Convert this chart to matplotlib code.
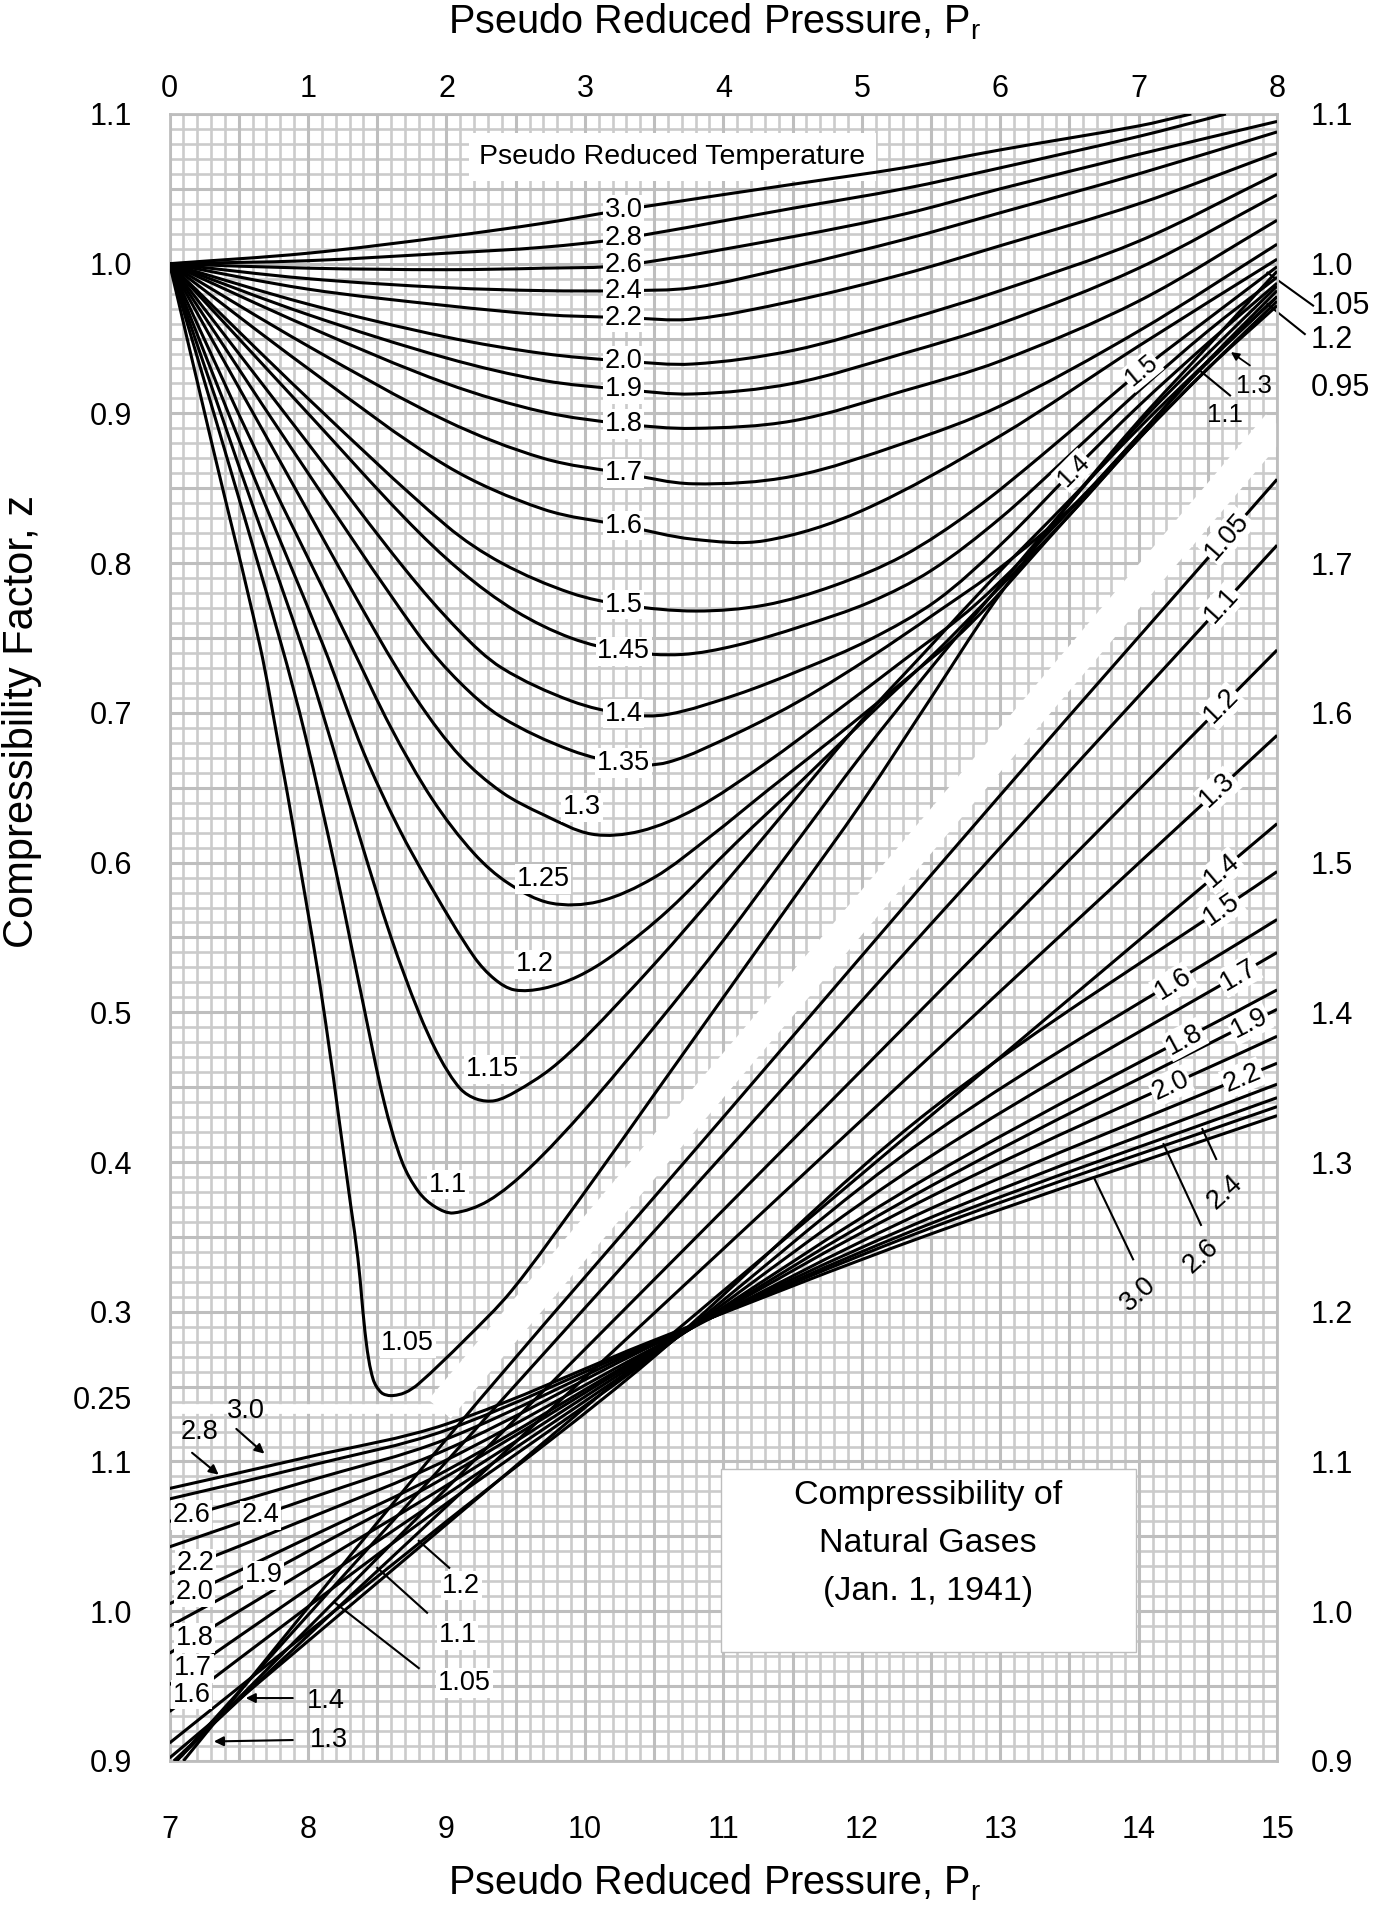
import numpy as np
import matplotlib.pyplot as plt
from matplotlib.patches import Rectangle, PathPatch
from matplotlib.path import Path

plt.rcParams['font.family'] = ['Liberation Sans', 'DejaVu Sans']

# ---------------- upper chart: Pr 0-8 (top scale), z 0.25-1.1 (left scale)
up_pr_30 = [0, 1, 2, 2.7, 3.28, 4.5, 5.3, 6, 7, 7.38]
up_z_30 = [1.0, 1.007, 1.018, 1.027, 1.036, 1.053, 1.064, 1.076, 1.092, 1.1]
up_pr_28 = [0, 1, 2, 2.7, 3.28, 4.5, 5.3, 6, 7, 7.63]
up_z_28 = [1.0, 1.002, 1.007, 1.011, 1.017, 1.037, 1.05, 1.064, 1.085, 1.1]
up_pr_26 = [0, 1, 2, 2.7, 3.28, 4.5, 5.3, 6, 7, 8]
up_z_26 = [1.0, 0.997, 0.996, 0.997, 0.999, 1.018, 1.033, 1.05, 1.073, 1.095]
up_pr_hi = [0, 1, 2, 2.7, 3.28, 3.78, 4.5, 5.3, 6, 7, 8]
up_z_24 = [1.0, 0.99, 0.984, 0.982, 0.982, 0.984, 0.998, 1.016, 1.034, 1.06, 1.088]
up_z_22 = [1.0, 0.983, 0.972, 0.966, 0.964, 0.963, 0.975, 0.993, 1.012, 1.04, 1.074]
up_z_20 = [1.0, 0.973, 0.951, 0.94, 0.935, 0.933, 0.942, 0.962, 0.982, 1.015, 1.06]
up_z_19 = [1.0, 0.966, 0.937, 0.922, 0.916, 0.913, 0.92, 0.94, 0.96, 0.997, 1.046]
up_z_18 = [1.0, 0.958, 0.92, 0.901, 0.893, 0.89, 0.895, 0.915, 0.935, 0.975, 1.029]
up_z_17 = [1.0, 0.945, 0.895, 0.87, 0.86, 0.853, 0.858, 0.88, 0.905, 0.955, 1.013]
up_pr_16 = [0, 1, 2, 2.7, 3.28, 3.78, 4.3, 5, 6, 7, 8]
up_z_16 = [1.0, 0.93, 0.865, 0.836, 0.825, 0.816, 0.815, 0.835, 0.885, 0.945, 1.003]
up_pr_15 = [0, 1, 2, 2.4, 2.9, 3.29, 3.8, 4.3, 4.8, 5.3, 5.8, 6.3, 7.05, 7.5, 8]
up_z_15 = [1.0, 0.91, 0.825, 0.8, 0.78, 0.772, 0.768, 0.772, 0.785, 0.805, 0.835, 0.872, 0.931, 0.963, 0.998]
up_pr_145 = [0, 1, 1.7, 2.1, 2.5, 2.9, 3.29, 3.7, 4.09, 4.57, 5.06, 5.5, 6, 6.5, 7, 7.5, 8]
up_z_145 = [1.0, 0.9, 0.83, 0.795, 0.768, 0.75, 0.741, 0.739, 0.745, 0.758, 0.774, 0.795, 0.83, 0.872, 0.915, 0.955, 0.991]
up_pr_14 = [0, 1, 1.7, 2.1, 2.4, 2.9, 3.3, 3.6, 4.09, 4.57, 5.06, 5.54, 6, 6.53, 7, 7.5, 8]
up_z_14 = [1.0, 0.88, 0.796, 0.754, 0.73, 0.708, 0.699, 0.699, 0.712, 0.729, 0.749, 0.775, 0.812, 0.862, 0.905, 0.947, 0.987]
up_pr_135 = [0, 0.9, 1.8, 2.1, 2.4, 2.9, 3.3, 3.6, 4.09, 4.57, 5.06, 5.54, 6, 6.5, 7, 7.5, 8]
up_z_135 = [1.0, 0.874, 0.752, 0.72, 0.697, 0.675, 0.666, 0.667, 0.686, 0.709, 0.737, 0.767, 0.797, 0.836, 0.885, 0.935, 0.982]
up_pr_13 = [0, 0.75, 1.5, 1.8, 2.1, 2.4, 2.7, 3.05, 3.4, 3.8, 4.3, 4.8, 5.3, 5.83, 6.5, 7, 7.4, 8]
up_z_13 = [1.0, 0.876, 0.752, 0.707, 0.671, 0.647, 0.632, 0.619, 0.621, 0.636, 0.666, 0.7, 0.735, 0.773, 0.835, 0.885, 0.925, 0.978]
up_pr_125 = [0, 0.65, 1.3, 1.6, 1.9, 2.2, 2.45, 2.75, 3.1, 3.5, 3.9, 4.33, 4.81, 5.3, 5.78, 6.5, 7, 7.5, 8]
up_z_125 = [1.0, 0.87, 0.747, 0.69, 0.642, 0.606, 0.586, 0.573, 0.574, 0.59, 0.617, 0.649, 0.684, 0.721, 0.759, 0.832, 0.883, 0.93, 0.975]
up_pr_12 = [0, 0.55, 1.11, 1.4, 1.65, 1.9, 2.2, 2.35, 2.49, 2.7, 2.95, 3.2, 3.6, 4.09, 4.57, 5.06, 5.54, 5.86, 6.5, 7, 7.5, 8]
up_z_12 = [1.0, 0.871, 0.745, 0.674, 0.624, 0.582, 0.537, 0.522, 0.515, 0.516, 0.524, 0.538, 0.568, 0.613, 0.655, 0.699, 0.741, 0.771, 0.832, 0.883, 0.93, 0.972]
up_pr_115 = [0, 0.5, 0.95, 1.17, 1.38, 1.6, 1.8, 1.95, 2.1, 2.22, 2.35, 2.5, 2.75, 3.0, 3.5, 4.0, 4.5, 5.0, 5.5, 5.95, 6.5, 7, 7.5, 8]
up_z_115 = [1.0, 0.865, 0.746, 0.68, 0.615, 0.55, 0.5, 0.47, 0.449, 0.442, 0.441, 0.447, 0.462, 0.483, 0.532, 0.585, 0.64, 0.695, 0.745, 0.79, 0.842, 0.89, 0.935, 0.978]
up_pr_11 = [0, 0.4, 0.8, 0.98, 1.2, 1.4, 1.55, 1.68, 1.8, 1.92, 2.05, 2.3, 2.6, 3.0, 3.5, 4.0, 4.5, 5.0, 5.5, 5.95, 6.5, 7, 7.5, 8]
up_z_11 = [1.0, 0.875, 0.748, 0.685, 0.595, 0.505, 0.44, 0.4, 0.38, 0.37, 0.366, 0.374, 0.396, 0.435, 0.49, 0.548, 0.61, 0.672, 0.73, 0.78, 0.84, 0.893, 0.94, 0.985]
up_pr_105 = [0, 0.3, 0.65, 0.8, 0.9, 1.1, 1.31, 1.36, 1.42, 1.47, 1.53, 1.6, 1.7, 1.8, 2.13, 2.47, 3.0, 3.5, 4.0, 4.5, 5.0, 5.5, 5.95, 6.5, 7, 7.5, 8]
up_z_105 = [1.0, 0.882, 0.746, 0.672, 0.62, 0.51, 0.37, 0.336, 0.28, 0.255, 0.246, 0.244, 0.246, 0.252, 0.281, 0.314, 0.38, 0.445, 0.51, 0.575, 0.64, 0.71, 0.773, 0.84, 0.895, 0.945, 0.995]

# ---------------- lower chart: Pr 7-15 (bottom scale), z 0.9-1.7 (right scale)
lo_pr_hi = [7.0, 8.0, 9.0, 10.5, 12.5, 15.0]
lo_z_30 = [1.082, 1.103, 1.125, 1.181, 1.252, 1.331]
lo_z_28 = [1.075, 1.097, 1.121, 1.180, 1.256, 1.337]
lo_z_26 = [1.060, 1.087, 1.115, 1.179, 1.259, 1.343]
lo_z_24 = [1.043, 1.075, 1.108, 1.178, 1.263, 1.352]
lo_z_22 = [1.025, 1.062, 1.101, 1.176, 1.269, 1.366]
lo_z_20 = [1.005, 1.049, 1.094, 1.175, 1.277, 1.384]
lo_z_19 = [0.990, 1.040, 1.090, 1.174, 1.284, 1.402]
lo_z_18 = [0.972, 1.028, 1.084, 1.173, 1.291, 1.415]
lo_z_17 = [0.951, 1.015, 1.078, 1.172, 1.304, 1.440]
lo_z_16 = [0.933, 1.003, 1.072, 1.171, 1.318, 1.462]
lo_z_15 = [0.912, 0.986, 1.060, 1.170, 1.335, 1.494]
lo_z_14 = [0.902, 0.980, 1.058, 1.175, 1.331, 1.526]
lo_pr_13 = [7.03, 9, 11, 13, 15]
lo_z_13 = [0.9, 1.07, 1.242, 1.414, 1.585]
lo_pr_12 = [7.05, 9, 11, 13, 15]
lo_z_12 = [0.9, 1.082, 1.268, 1.455, 1.642]
lo_pr_11 = [7.05, 9, 11, 13, 15]
lo_z_11 = [0.9, 1.1, 1.305, 1.51, 1.712]
lo_pr_105 = [7.1, 9, 11, 13, 15]
lo_z_105 = [0.9, 1.115, 1.33, 1.545, 1.756]

# axis tick labels
top_ticks = [0, 1, 2, 3, 4, 5, 6, 7, 8]
bottom_labels = ['7', '8', '9', '10', '11', '12', '13', '14', '15']
left_up_ticks = [0.243, 0.3, 0.4, 0.5, 0.6, 0.7, 0.8, 0.9, 1.0, 1.1]
left_up_labels = ['0.25', '0.3', '0.4', '0.5', '0.6', '0.7', '0.8', '0.9', '1.0', '1.1']
left_lo_ticks = [0.9, 1.0, 1.1]
right_up_ticks = [1.0, 1.1]
right_lo_ticks = [0.9, 1.0, 1.1, 1.2, 1.3, 1.4, 1.5, 1.6, 1.7]

upper = [('3.0', up_pr_30, up_z_30), ('2.8', up_pr_28, up_z_28), ('2.6', up_pr_26, up_z_26),
         ('2.4', up_pr_hi, up_z_24), ('2.2', up_pr_hi, up_z_22), ('2.0', up_pr_hi, up_z_20),
         ('1.9', up_pr_hi, up_z_19), ('1.8', up_pr_hi, up_z_18), ('1.7', up_pr_hi, up_z_17),
         ('1.6', up_pr_16, up_z_16), ('1.5', up_pr_15, up_z_15), ('1.45', up_pr_145, up_z_145),
         ('1.4', up_pr_14, up_z_14), ('1.35', up_pr_135, up_z_135), ('1.3', up_pr_13, up_z_13),
         ('1.25', up_pr_125, up_z_125), ('1.2', up_pr_12, up_z_12), ('1.15', up_pr_115, up_z_115),
         ('1.1', up_pr_11, up_z_11), ('1.05', up_pr_105, up_z_105)]
lower = [('3.0', lo_pr_hi, lo_z_30), ('2.8', lo_pr_hi, lo_z_28), ('2.6', lo_pr_hi, lo_z_26),
         ('2.4', lo_pr_hi, lo_z_24), ('2.2', lo_pr_hi, lo_z_22), ('2.0', lo_pr_hi, lo_z_20),
         ('1.9', lo_pr_hi, lo_z_19), ('1.8', lo_pr_hi, lo_z_18), ('1.7', lo_pr_hi, lo_z_17),
         ('1.6', lo_pr_hi, lo_z_16), ('1.5', lo_pr_hi, lo_z_15), ('1.4', lo_pr_hi, lo_z_14),
         ('1.3', lo_pr_13, lo_z_13), ('1.2', lo_pr_12, lo_z_12), ('1.1', lo_pr_11, lo_z_11),
         ('1.05', lo_pr_105, lo_z_105)]
up = {k: (p, z) for k, p, z in upper}
lo = {k: (p, z) for k, p, z in lower}

FS_TICK = 22
FS_LAB = 19.5
white = dict(boxstyle='square,pad=0.06', fc='white', ec='none')

fig = plt.figure(figsize=(13.82, 19.12), dpi=100)
rect = [0.1227, 0.0790, 0.8014, 0.8614]
ax = fig.add_axes(rect, label='upper')
ax2 = fig.add_axes(rect, label='lower')
ax2.set_zorder(ax.get_zorder() + 1)
ax2.patch.set_visible(False)

ax.set_xlim(0, 8)
ax.set_ylim(0, 1.1)
ax2.set_xlim(7, 15)
ax2.set_ylim(0.9, 2.0)

# graph paper
gx = np.round(np.arange(0, 8.001, 0.1), 2)
gy = np.round(np.arange(0, 1.1001, 0.01), 3)
mx = np.isclose(gx * 2, np.round(gx * 2))
my = np.isclose(gy * 20, np.round(gy * 20))
ax.vlines(gx[~mx], 0, 1.1, color='#cbcbcb', lw=1.9, zorder=0.5)
ax.hlines(gy[~my], 0, 8, color='#cbcbcb', lw=1.9, zorder=0.5)
ax.vlines(gx[mx], 0, 1.1, color='#bebebe', lw=2.2, zorder=0.6)
ax.hlines(gy[my], 0, 8, color='#bebebe', lw=2.2, zorder=0.6)
for s in ax.spines.values():
    s.set_color('#bdbdbd')
    s.set_linewidth(2)
for s in ax2.spines.values():
    s.set_visible(False)

# white separator between the two charts
ax.plot([0, 1.95], [0.235, 0.235], color='white', lw=7, zorder=1.5, solid_capstyle='butt')
ax.plot([1.95, 8.0], [0.235, 0.893], color='white', lw=21, zorder=1.5, solid_capstyle='butt')


def smooth_path(axis, p, z):
    # cubic Bezier through the read points (chord-length Hermite tangents)
    pts = np.column_stack([p, z]).astype(float)
    disp = axis.transData.transform(pts)
    d = np.r_[0, np.cumsum(np.hypot(*np.diff(disp, axis=0).T))]
    tang = np.zeros_like(pts)
    tang[0] = (pts[1] - pts[0]) / (d[1] - d[0])
    tang[-1] = (pts[-1] - pts[-2]) / (d[-1] - d[-2])
    for i in range(1, len(pts) - 1):
        tang[i] = (pts[i + 1] - pts[i - 1]) / (d[i + 1] - d[i - 1])
    verts = [pts[0]]
    codes = [Path.MOVETO]
    for i in range(len(pts) - 1):
        h = (d[i + 1] - d[i]) / 3
        verts += [pts[i] + tang[i] * h, pts[i + 1] - tang[i + 1] * h, pts[i + 1]]
        codes += [Path.CURVE4] * 3
    return Path(verts, codes)


for k, p, z in upper:
    ax.add_patch(PathPatch(smooth_path(ax, p, z), fill=False, ec='black', lw=2.2,
                           zorder=3, joinstyle='round'))
for k, p, z in lower:
    ax2.add_patch(PathPatch(smooth_path(ax2, p, z), fill=False, ec='black', lw=2.2,
                            zorder=3, joinstyle='round'))


def angle(axis, p, z, x0):
    a = axis.transData.transform((x0 - 0.1, np.interp(x0 - 0.1, p, z)))
    b = axis.transData.transform((x0 + 0.1, np.interp(x0 + 0.1, p, z)))
    return np.degrees(np.arctan2(b[1] - a[1], b[0] - a[0]))


# upper labels: column at Pr 3.28
for k in ['3.0', '2.8', '2.6', '2.4', '2.2', '2.0', '1.9', '1.8', '1.7', '1.6', '1.5', '1.45', '1.4', '1.35']:
    p, z = up[k]
    ax.text(3.28, np.interp(3.28, p, z), k, ha='center', va='center', fontsize=FS_LAB,
            zorder=5, bbox=white)
for k, x, y in [('1.3', 2.98, 0.637), ('1.25', 2.70, 0.589), ('1.2', 2.64, 0.532),
                ('1.15', 2.33, 0.462), ('1.1', 2.01, 0.385), ('1.05', 1.72, 0.279)]:
    ax.text(x, y, k, ha='center', va='center', fontsize=FS_LAB, zorder=5, bbox=white)
for k, x in [('1.5', 7.02), ('1.4', 6.53)]:
    p, z = up[k]
    ax.text(x, np.interp(x, p, z), k, ha='center', va='center', fontsize=FS_LAB - 1.5, zorder=5,
            rotation=angle(ax, p, z, x), rotation_mode='anchor', bbox=white)

ax.add_patch(Rectangle((2.16, 1.055), 2.94, 0.032, fc='white', ec='none', zorder=2))
ax.text(3.63, 1.071, 'Pseudo Reduced Temperature', ha='center', va='center', fontsize=20.5, zorder=5)

# upper right pointers
ax.plot([7.45, 7.66], [0.928, 0.912], color='black', lw=1.5, zorder=4)
ax.annotate('', xy=(7.65, 0.942), xytext=(7.82, 0.931),
            arrowprops=dict(arrowstyle='-|>', color='black', lw=1.3, mutation_scale=12), zorder=4)
ax.text(7.83, 0.918, '1.3', ha='center', va='center', fontsize=FS_LAB - 1, zorder=5)
ax.text(7.62, 0.899, '1.1', ha='center', va='center', fontsize=FS_LAB - 1, zorder=5)
ax.plot([7.93, 8.26], [0.994, 0.972], color='black', lw=1.5, clip_on=False)
ax.plot([7.93, 8.2], [0.973, 0.953], color='black', lw=1.5, clip_on=False)
for k, y in [('1.05', 0.972), ('1.2', 0.949), ('0.95', 0.917)]:
    ax.text(8.24, y, k, ha='left', va='center', fontsize=FS_TICK, clip_on=False)

# lower chart labels, left side
for k, x in [('2.6', 7.16), ('2.2', 7.19), ('2.0', 7.18), ('1.8', 7.18), ('1.7', 7.17),
             ('1.6', 7.16), ('2.4', 7.66), ('1.9', 7.68)]:
    p, z = lo[k]
    ax2.text(x, np.interp(x, p, z), k, ha='center', va='center', fontsize=FS_LAB,
             zorder=5, bbox=white)
for k, xy, tail, tip in [('2.8', (7.216, 1.120), (7.147, 1.107), (7.37, 1.090)),
                         ('3.0', (7.55, 1.134), (7.467, 1.123), (7.70, 1.104)),
                         ('1.4', (8.13, 0.940), (7.91, 0.942), (7.53, 0.942)),
                         ('1.3', (8.15, 0.914), (7.91, 0.914), (7.30, 0.913))]:
    ax2.text(xy[0], xy[1], k, ha='center', va='center', fontsize=FS_LAB, zorder=5)
    ax2.annotate('', xy=tip, xytext=tail,
                 arrowprops=dict(arrowstyle='-|>', color='black', lw=1.5, mutation_scale=14),
                 zorder=4)
for k, xy, a, b in [('1.2', (9.107, 1.017), (8.80, 1.047), (9.02, 1.029)),
                    ('1.1', (9.08, 0.984), (8.50, 1.029), (8.86, 0.999)),
                    ('1.05', (9.13, 0.952), (8.19, 1.006), (8.80, 0.962))]:
    ax2.plot([a[0], b[0]], [a[1], b[1]], color='black', lw=1.5, zorder=4)
    ax2.text(xy[0], xy[1], k, ha='center', va='center', fontsize=FS_LAB, zorder=5, bbox=white)

# lower chart labels, right side
for k, x in [('1.05', 14.64), ('1.1', 14.6), ('1.2', 14.6), ('1.3', 14.57), ('1.4', 14.6),
             ('1.5', 14.6), ('1.6', 14.25), ('1.7', 14.72), ('1.8', 14.33), ('1.9', 14.8),
             ('2.0', 14.23), ('2.2', 14.75)]:
    p, z = lo[k]
    ax2.text(x, np.interp(x, p, z), k, ha='center', va='center', fontsize=FS_LAB, zorder=5,
             rotation=angle(ax2, p, z, x), rotation_mode='anchor', bbox=white)
for k, xy, a, b in [('2.4', (14.62, 1.280), (14.46, 1.322), (14.56, 1.302)),
                    ('2.6', (14.45, 1.237), (14.18, 1.312), (14.45, 1.258)),
                    ('3.0', (14.0, 1.212), (13.68, 1.289), (13.96, 1.235))]:
    ax2.plot([a[0], b[0]], [a[1], b[1]], color='black', lw=1.5, zorder=4)
    ax2.text(xy[0], xy[1], k, ha='center', va='center', fontsize=FS_LAB, rotation=42, zorder=5)

ax2.add_patch(Rectangle((10.98, 0.973), 3.0, 0.122, fc='white', ec='#bdbdbd', lw=1, zorder=2))
for txt, y in [('Compressibility of', 1.077), ('Natural Gases', 1.045), ('(Jan. 1, 1941)', 1.013)]:
    ax2.text(12.48, y, txt, ha='center', va='center', fontsize=24.5, zorder=5)

# ticks
ax.xaxis.tick_top()
ax.set_xticks(top_ticks)
ax.tick_params(axis='x', length=0, pad=7, labelsize=FS_TICK)
ax.set_yticks(left_up_ticks, labels=left_up_labels)
ax.tick_params(axis='y', length=0, pad=27, labelsize=FS_TICK)
sec = ax.secondary_yaxis('right')
sec.set_yticks(right_up_ticks, labels=['%.1f' % v for v in right_up_ticks])
sec.tick_params(length=0, pad=24, labelsize=FS_TICK)
for s in sec.spines.values():
    s.set_visible(False)

ax2.set_xticks(np.arange(7, 16), labels=bottom_labels)
ax2.tick_params(axis='x', length=0, pad=39, labelsize=FS_TICK)
ax2.set_yticks(left_lo_ticks, labels=['%.1f' % v for v in left_lo_ticks])
ax2.tick_params(axis='y', length=0, pad=27, labelsize=FS_TICK)
sec2 = ax2.secondary_yaxis('right')
sec2.set_yticks(right_lo_ticks, labels=['%.1f' % v for v in right_lo_ticks])
sec2.tick_params(length=0, pad=24, labelsize=FS_TICK)
for s in sec2.spines.values():
    s.set_visible(False)

fig.text(0.517, 0.9885, 'Pseudo Reduced Pressure, P$_\\mathregular{r}$', ha='center', va='center', fontsize=28.5)
fig.text(0.517, 0.0152, 'Pseudo Reduced Pressure, P$_\\mathregular{r}$', ha='center', va='center', fontsize=28.5)
fig.text(0.016, 0.6224, 'Compressibility Factor, z', rotation=90, ha='center', va='center', fontsize=30)

fig.savefig('out.png', dpi=100)
